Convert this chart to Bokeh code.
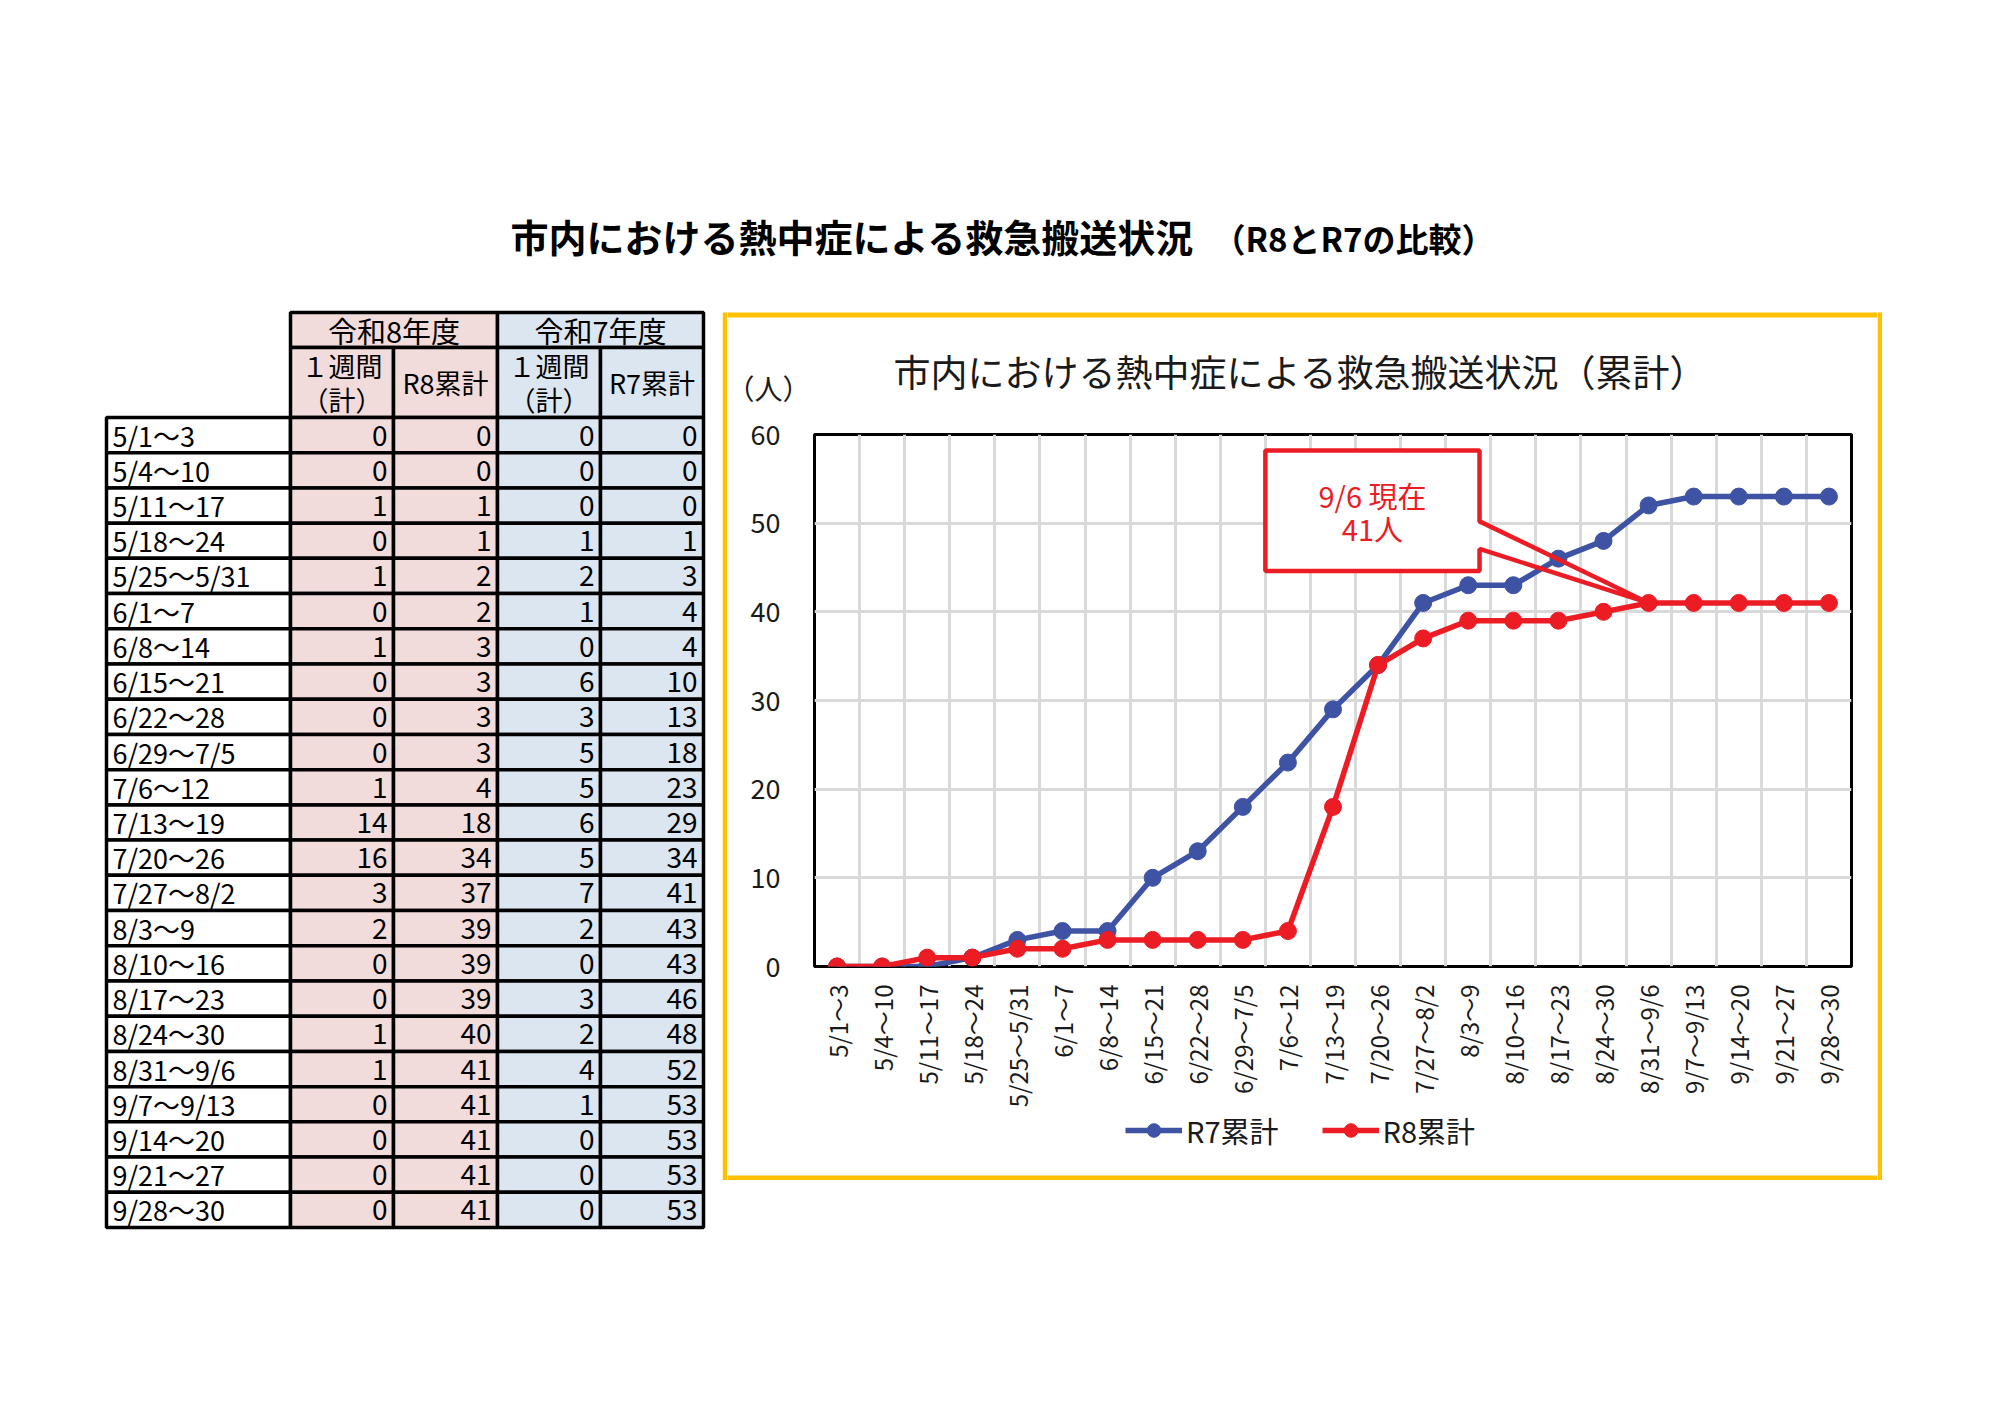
import numpy as np
from bokeh.plotting import figure
from bokeh.models import (Range1d, FixedTicker, Label, BoxAnnotation, PolyAnnotation,
                          Legend, LegendItem)
from bokeh.layouts import column, row
from bokeh.embed import file_html
from bokeh.resources import INLINE
from bokeh.core.properties import value

# ---------------- data ----------------
weeks = ["5/1～3", "5/4～10", "5/11～17", "5/18～24", "5/25～5/31", "6/1～7", "6/8～14",
         "6/15～21", "6/22～28", "6/29～7/5", "7/6～12", "7/13～19", "7/20～26", "7/27～8/2",
         "8/3～9", "8/10～16", "8/17～23", "8/24～30", "8/31～9/6", "9/7～9/13", "9/14～20",
         "9/21～27", "9/28～30"]
r8_weekly = [0, 0, 1, 0, 1, 0, 1, 0, 0, 0, 1, 14, 16, 3, 2, 0, 0, 1, 1, 0, 0, 0, 0]
r8_cum = [0, 0, 1, 1, 2, 2, 3, 3, 3, 3, 4, 18, 34, 37, 39, 39, 39, 40, 41, 41, 41, 41, 41]
r7_weekly = [0, 0, 0, 1, 2, 1, 0, 6, 3, 5, 5, 6, 5, 7, 2, 0, 3, 2, 4, 1, 0, 0, 0]
r7_cum = [0, 0, 0, 1, 3, 4, 4, 10, 13, 18, 23, 29, 34, 41, 43, 43, 46, 48, 52, 53, 53, 53, 53]
year_headers = ["令和8年度", "令和7年度"]
sub_headers = [["１週間", "（計）"], ["R8累計"], ["１週間", "（計）"], ["R7累計"]]
y_ticks = [0, 10, 20, 30, 40, 50, 60]
main_title = "市内における熱中症による救急搬送状況"
main_subtitle = "（R8とR7の比較）"
chart_title = "市内における熱中症による救急搬送状況（累計）"
y_unit = "（人）"
series_names = ["R7累計", "R8累計"]
callout_week = "8/31～9/6"
callout_lines = ["9/6 現在", "41人"]

# ---------------- styles ----------------
JP = "Noto Sans CJK JP"
BLUE = "#3F53A4"
RED = "#EC1C24"
PINK = "#F2DCDB"
LBLUE = "#DCE6F1"
GOLD = "#FFC000"
GRID = "#D9D9D9"
TXT = "#1a1a1a"


def no_align(f):
    if hasattr(f, "frame_align"):
        f.frame_align = False
    return f


def blank_fig(w, h):
    f = figure(width=w, height=h, x_range=Range1d(0, w), y_range=Range1d(h, 0),
               x_axis_location=None, y_axis_location=None, output_backend="svg",
               toolbar_location=None, min_border=0)
    f.grid.visible = False
    f.outline_line_color = None
    return no_align(f)


# ---------------- title strip ----------------
TW, TH = 1882, 280
tf = blank_fig(TW, TH)
tf.text(x=[510], y=[235], text=[main_title], text_font=value(JP), text_font_size="38px",
        text_font_style="bold", text_baseline="middle", text_align="left", text_color="#000")
tf.text(x=[1212], y=[237], text=[main_subtitle], text_font=value(JP), text_font_size="33px",
        text_font_style="bold", text_baseline="middle", text_align="left", text_color="#000")

# ---------------- table ----------------
TOFF = 32
BW, BH = 722, 952
tb = blank_fig(BW, BH)
cols = [106, 290, 393, 497, 600, 703]
hdr_top, hdr_mid, hdr_bot = TOFF, TOFF + 35, TOFF + 105
row_h = (TOFF + 915 - hdr_bot) / len(weeks)
col_fill = ["white", PINK, PINK, LBLUE, LBLUE]

L, R, T, B, C = [], [], [], [], []
for k, fill in enumerate([PINK, LBLUE]):
    L.append(cols[1 + 2 * k]); R.append(cols[3 + 2 * k]); T.append(hdr_top); B.append(hdr_mid); C.append(fill)
for j in range(4):
    L.append(cols[j + 1]); R.append(cols[j + 2]); T.append(hdr_mid); B.append(hdr_bot); C.append(col_fill[j + 1])
for i in range(len(weeks)):
    for j in range(5):
        L.append(cols[j]); R.append(cols[j + 1])
        T.append(hdr_bot + i * row_h); B.append(hdr_bot + (i + 1) * row_h); C.append(col_fill[j])
tb.quad(left=L, right=R, top=T, bottom=B, fill_color=C, line_color="#000", line_width=3.5)

tb.text(x=[(cols[1] + cols[3]) / 2, (cols[3] + cols[5]) / 2], y=[(hdr_top + hdr_mid) / 2] * 2,
        text=year_headers, text_font=value(JP), text_font_size="29px", text_align="center",
        text_baseline="middle", text_color="#000")
sx, sy, st = [], [], []
for j, lines in enumerate(sub_headers):
    cxh = (cols[j + 1] + cols[j + 2]) / 2
    if len(lines) == 1:
        sx.append(cxh); sy.append((hdr_mid + hdr_bot) / 2); st.append(lines[0])
    else:
        sx += [cxh, cxh]; sy += [hdr_mid + 18, hdr_mid + 52]; st += lines
tb.text(x=sx, y=sy, text=st, text_font=value(JP), text_font_size="27px", text_align="center",
        text_baseline="middle", text_color="#000")
yc = [hdr_bot + (i + 0.5) * row_h for i in range(len(weeks))]
tb.text(x=[cols[0] + 6] * len(weeks), y=yc, text=weeks, text_font=value(JP), text_font_size="27px",
        text_align="left", text_baseline="middle", text_color="#000")
for j, vals in enumerate([r8_weekly, r8_cum, r7_weekly, r7_cum]):
    tb.text(x=[cols[j + 2] - 6] * len(vals), y=yc, text=[str(v) for v in vals], text_font=value(JP),
            text_font_size="28px", text_align="right", text_baseline="middle", text_color="#000")

# ---------------- gold box geometry ----------------
GW = 5                 # gold border width
MW = 1150              # inner width of the gold box
HH = TOFF + GW + 97    # header (white headroom + gold top edge + title area)
PT, PB = 20, 142       # chart figure top / bottom borders
PH = PT + 534 + PB     # chart figure
FH = 70                # footer (legend + gold bottom edge)
BOXH = HH + PH + FH

# header: gold top edge, chart title, unit
hdr = blank_fig(MW, HH)
hdr.quad(left=[0], right=[MW], top=[TOFF], bottom=[TOFF + GW], fill_color=GOLD, line_color=None)
hdr.text(x=[166], y=[TOFF + 58], text=[chart_title], text_font=value(JP), text_font_size="37px",
         text_align="left", text_baseline="middle", text_color=TXT)
hdr.text(x=[41], y=[TOFF + 75], text=[y_unit], text_font=value(JP), text_font_size="28px",
         text_align="center", text_baseline="middle", text_color=TXT)

# side edges
gold_l = blank_fig(GW, BOXH)
gold_l.quad(left=[0], right=[GW], top=[TOFF], bottom=[BOXH], fill_color=GOLD, line_color=None)
gold_r = blank_fig(GW, BOXH)
gold_r.quad(left=[0], right=[GW], top=[TOFF], bottom=[BOXH], fill_color=GOLD, line_color=None)

# ---------------- chart ----------------
n = len(weeks)
x = np.arange(n) + 0.5
p = figure(width=MW, height=PH, x_range=Range1d(0, n), y_range=Range1d(0, 60),
           output_backend="svg", toolbar_location=None,
           min_border_left=87, min_border_right=26, min_border_top=PT, min_border_bottom=PB)
no_align(p)
p.title.visible = False
p.outline_line_color = "#000"
p.outline_line_width = 3

p.xaxis.ticker = FixedTicker(ticks=list(x))
p.xaxis.major_label_overrides = {float(xx): w for xx, w in zip(x, weeks)}
p.xaxis.major_label_orientation = np.pi / 2
p.yaxis.ticker = FixedTicker(ticks=y_ticks)
for ax in (p.xaxis, p.yaxis):
    ax.axis_line_color = None
    ax.major_tick_line_color = None
    ax.minor_tick_line_color = None
    ax.major_tick_out = 0
    ax.major_tick_in = 0
    ax.major_label_text_font = JP
    ax.major_label_text_color = TXT
p.xaxis.major_label_text_font_size = "24px"
p.xaxis.major_label_standoff = 18
p.yaxis.major_label_text_font_size = "27px"
p.yaxis.major_label_standoff = 34

p.xgrid.ticker = FixedTicker(ticks=list(range(1, n)))
p.xgrid.grid_line_color = GRID
p.xgrid.grid_line_width = 3
p.ygrid.ticker = FixedTicker(ticks=y_ticks)
p.ygrid.grid_line_color = GRID
p.ygrid.grid_line_width = 3

LW, MS = 5.5, 17
p.line(x, r7_cum, line_color=BLUE, line_width=LW)
p.scatter(x, r7_cum, size=MS, fill_color=BLUE, line_color=BLUE)
p.line(x, r8_cum, line_color=RED, line_width=LW)
p.scatter(x, r8_cum, size=MS, fill_color=RED, line_color=RED)

# callout
idx = weeks.index(callout_week)
tip_x, tip_y = x[idx], r8_cum[idx]
box_l, box_r, box_b, box_t = 10.0, 14.75, 44.6, 58.2
wedge_hi, wedge_lo = 50.2, 47.1
p.add_layout(BoxAnnotation(left=box_l, right=box_r, bottom=box_b, top=box_t,
                           fill_color="white", fill_alpha=1, line_color=None))
p.add_layout(PolyAnnotation(xs=[box_r, box_r, box_l, box_l, box_r, box_r, tip_x],
                            ys=[wedge_lo, box_b, box_b, box_t, box_t, wedge_hi, tip_y],
                            fill_color=None, fill_alpha=0, line_color=RED, line_alpha=1,
                            line_width=4.5))
cx = (box_l + box_r) / 2
p.add_layout(Label(x=cx, y=53.2, text=callout_lines[0], text_font=JP, text_font_size="29px",
                   text_color=RED, text_align="center", text_baseline="middle"))
p.add_layout(Label(x=cx, y=49.5, text=callout_lines[1], text_font=JP, text_font_size="29px",
                   text_color=RED, text_align="center", text_baseline="middle"))

# ---------------- footer: legend + gold bottom edge ----------------
foot = blank_fig(MW, FH)
foot.quad(left=[0], right=[MW], top=[FH - GW], bottom=[FH], fill_color=GOLD, line_color=None)
nan = np.array([np.nan])
k7 = [foot.line(nan, nan, line_color=BLUE, line_width=LW),
      foot.scatter(nan, nan, size=MS, fill_color=BLUE, line_color=BLUE)]
k8 = [foot.line(nan, nan, line_color=RED, line_width=LW),
      foot.scatter(nan, nan, size=MS, fill_color=RED, line_color=RED)]
legend = Legend(items=[LegendItem(label=series_names[0], renderers=k7),
                       LegendItem(label=series_names[1], renderers=k8)],
                orientation="horizontal", location=(398, 29),
                label_text_font=JP, label_text_font_size="29px", label_text_color=TXT,
                glyph_width=57, glyph_height=34, label_standoff=4, spacing=43,
                padding=0, margin=0, border_line_color=None, background_fill_alpha=0)
foot.add_layout(legend, "center")

chart_block = row(gold_l, column(hdr, p, foot), gold_r)
layout = column(tf, row(tb, chart_block))
open("out.html", "w").write(file_html(layout, INLINE))
